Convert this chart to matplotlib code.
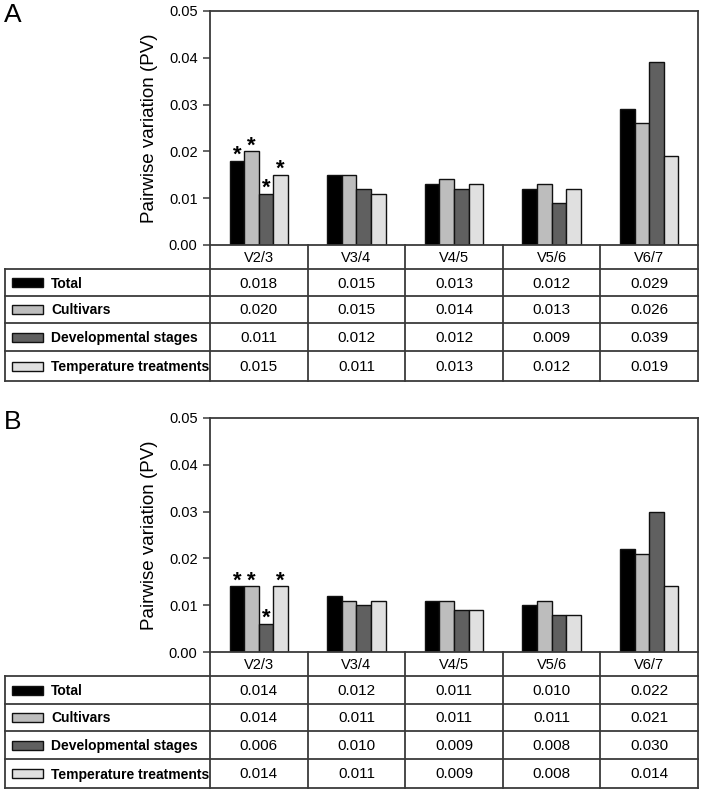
import matplotlib
import numpy as np

matplotlib.use("Agg")
import matplotlib.pyplot as plt  # noqa: E402
from matplotlib.patches import Rectangle  # noqa: E402

plt.rcParams["font.family"] = ["Liberation Sans", "DejaVu Sans"]

# --- datos ---
categorias = ["V2/3", "V3/4", "V4/5", "V5/6", "V6/7"]
series = ["Total", "Cultivars", "Developmental stages", "Temperature treatments"]
colores = ["#000000", "#bdbdbd", "#606060", "#e0e0e0"]

a_total = [0.018, 0.015, 0.013, 0.012, 0.029]
a_cultivars = [0.020, 0.015, 0.014, 0.013, 0.026]
a_stages = [0.011, 0.012, 0.012, 0.009, 0.039]
a_temp = [0.015, 0.011, 0.013, 0.012, 0.019]

b_total = [0.014, 0.012, 0.011, 0.010, 0.022]
b_cultivars = [0.014, 0.011, 0.011, 0.011, 0.021]
b_stages = [0.006, 0.010, 0.009, 0.008, 0.030]
b_temp = [0.014, 0.011, 0.009, 0.008, 0.014]

# asteriscos solo en V2/3 (todas las series)
marcados = [0]

yticks = [0.00, 0.01, 0.02, 0.03, 0.04, 0.05]

W, H = 703, 790
LINEA = "#3a3a3a"

fig = plt.figure(figsize=(W / 100, H / 100), dpi=100)
capa = fig.add_axes([0, 0, 1, 1], zorder=5)
capa.set_xlim(0, W)
capa.set_ylim(H, 0)
capa.axis("off")
capa.patch.set_alpha(0)


def panel(letra, valores, y_top, y_bot, filas):
    x0, x1 = 210, 698
    ax = fig.add_axes([x0 / W, 1 - y_bot / H, (x1 - x0) / W, (y_bot - y_top) / H])
    n = len(categorias)
    x = np.arange(n)
    w = 0.15
    for i, (vals, col) in enumerate(zip(valores, colores)):
        pos = x + (i - 1.5) * w
        ax.bar(pos, vals, w, color=col, edgecolor="#111111", lw=1.0)
        for j in marcados:
            ax.text(pos[j], vals[j], "*", ha="center", va="baseline",
                    fontsize=16, fontweight="bold")
    ax.set_xlim(-0.5, n - 0.5)
    ax.set_ylim(0, 0.05)
    ax.set_yticks(yticks)
    ax.set_yticklabels([f"{t:.2f}" for t in yticks], fontsize=10.5)
    ax.set_xticks([])
    ax.tick_params(axis="y", direction="out", length=5, width=1.1, color=LINEA, pad=4)
    for s in ax.spines.values():
        s.set_color(LINEA)
        s.set_linewidth(1.3)

    # etiqueta del eje y y letra del panel
    capa.text(150, (y_top + y_bot) / 2, "Pairwise variation (PV)", rotation=90,
              ha="center", va="center", fontsize=13.5)
    capa.text(4, y_top + 11, letra, ha="left", va="baseline", fontsize=19)

    # tabla debajo
    anchos = (x1 - x0) / n
    xs = [x0 + k * anchos for k in range(n + 1)]
    y_fin = filas[-1]
    kw = dict(color=LINEA, lw=1.3, solid_capstyle="projecting")
    for xv in xs:
        capa.plot([xv, xv], [y_bot, y_fin], **kw)
    capa.plot([5, 5], [filas[0], y_fin], **kw)
    for yh in filas:
        capa.plot([5, x1], [yh, yh], **kw)
    for k, cat in enumerate(categorias):
        capa.text(xs[k] + anchos / 2, (y_bot + filas[0]) / 2 + 1, cat,
                  ha="center", va="center", fontsize=10.5)
    for r, (nombre, vals, col) in enumerate(zip(series, valores, colores)):
        yc = (filas[r] + filas[r + 1]) / 2
        capa.add_patch(Rectangle((12, yc - 4.5), 31, 9, facecolor=col,
                                 edgecolor="#111111", lw=1.0))
        capa.text(51, yc + 1, nombre, ha="left", va="center", fontsize=10,
                  fontweight="bold")
        for k, v in enumerate(vals):
            capa.text(xs[k] + anchos / 2, yc + 1, f"{v:.3f}", ha="center",
                      va="center", fontsize=11)
    return ax


panel("A", [a_total, a_cultivars, a_stages, a_temp], 11, 245,
      [269, 296, 323, 351, 381])
panel("B", [b_total, b_cultivars, b_stages, b_temp], 418, 652,
      [676, 704, 731, 759, 788])

fig.savefig("out.png", dpi=100)
plt.close(fig)
